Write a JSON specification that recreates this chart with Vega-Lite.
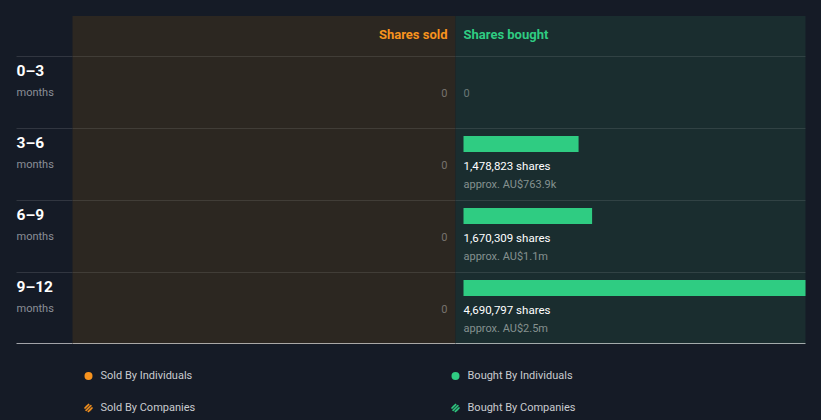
{
  "$schema": "https://vega.github.io/schema/vega-lite/v6.json",
  "background": "#151b26",
  "padding": {"left": 15.5, "top": 16, "right": 16, "bottom": 0},
  "spacing": 0,
  "config": {
    "view": {"stroke": null},
    "concat": {"spacing": 0},
    "font": "Roboto",
    "text": {"font": "Roboto"}
  },
  "datasets": {
    "rows": [
      {"period": "0–3", "unit": "months", "sold": 0, "bought": 0, "shares": "0", "approx": ""},
      {"period": "3–6", "unit": "months", "sold": 0, "bought": 1478823, "shares": "1,478,823 shares", "approx": "approx. AU$763.9k"},
      {"period": "6–9", "unit": "months", "sold": 0, "bought": 1670309, "shares": "1,670,309 shares", "approx": "approx. AU$1.1m"},
      {"period": "9–12", "unit": "months", "sold": 0, "bought": 4690797, "shares": "4,690,797 shares", "approx": "approx. AU$2.5m"}
    ],
    "legend": [
      {"side": "Sold", "kind": "Individuals", "label": "Sold By Individuals"},
      {"side": "Bought", "kind": "Individuals", "label": "Bought By Individuals"},
      {"side": "Sold", "kind": "Companies", "label": "Sold By Companies"},
      {"side": "Bought", "kind": "Companies", "label": "Bought By Companies"}
    ]
  },
  "vconcat": [
    {
      "spacing": 0,
      "bounds": "flush",
      "hconcat": [
        {
          "width": 56, "height": 40,
          "data": {"values": [{}]},
          "mark": {"type": "text"},
          "encoding": {"text": {"value": ""}, "x": {"datum": 0, "type": "quantitative", "scale": {"domain": [0, 1]}, "axis": null}}
        },
        {
          "width": 383, "height": 40,
          "view": {"fill": "#2c2721", "stroke": null},
          "data": {"values": [{"label": "Shares sold"}]},
          "mark": {"type": "text", "align": "right", "baseline": "middle", "dx": -8, "dy": -1.5, "fontSize": 13, "fontWeight": "bold", "color": "#f7931e"},
          "encoding": {
            "text": {"field": "label"},
            "x": {"datum": 0, "type": "quantitative", "scale": {"domain": [0, 1], "nice": false, "reverse": true}, "axis": null}
          }
        },
        {
          "width": 350, "height": 40,
          "view": {"fill": "#1a2d2f", "stroke": null},
          "data": {"values": [{"label": "Shares bought"}]},
          "mark": {"type": "text", "align": "left", "baseline": "middle", "dx": 8, "dy": -1.5, "fontSize": 13, "fontWeight": "bold", "color": "#2fcc82"},
          "encoding": {
            "text": {"field": "label"},
            "x": {"datum": 0, "type": "quantitative", "scale": {"domain": [0, 1], "nice": false}, "axis": null}
          }
        }
      ]
    },
    {
      "spacing": 0,
      "bounds": "flush",
      "hconcat": [
        {
          "width": 56, "height": 288,
          "data": {"name": "rows"},
          "encoding": {
            "y": {"field": "period", "type": "nominal", "sort": null, "bandPosition": 0, "scale": {"paddingInner": 0, "paddingOuter": 0}, "axis": null}
          },
          "layer": [
            {"mark": {"type": "rule", "color": "#ffffff", "opacity": 0.12, "strokeWidth": 1, "yOffset": 0.5}},
            {
              "transform": [{"filter": "datum.period == '9–12'"}],
              "mark": {"type": "rule", "color": "#ffffff", "opacity": 0.6, "strokeWidth": 1, "yOffset": -0.5},
              "encoding": {"y": {"field": "period", "type": "nominal", "sort": null, "bandPosition": 1}}
            },
            {
              "mark": {"type": "text", "align": "left", "baseline": "alphabetic", "dy": 20, "fontSize": 15.5, "fontWeight": "bold", "color": "#ffffff"},
              "encoding": {
                "text": {"field": "period"},
                "x": {"datum": 0, "type": "quantitative", "scale": {"domain": [0, 1], "nice": false}, "axis": null}
              }
            },
            {
              "mark": {"type": "text", "align": "left", "baseline": "alphabetic", "dy": 39.5, "fontSize": 11, "color": "#8b8f97"},
              "encoding": {
                "text": {"field": "unit"},
                "x": {"datum": 0, "type": "quantitative"}
              }
            }
          ]
        },
        {
          "width": 383, "height": 288,
          "view": {"fill": "#2c2721", "stroke": null},
          "data": {"name": "rows"},
          "encoding": {
            "y": {"field": "period", "type": "nominal", "sort": null, "bandPosition": 0, "scale": {"paddingInner": 0, "paddingOuter": 0}, "axis": null}
          },
          "layer": [
            {"mark": {"type": "rule", "color": "#ffffff", "opacity": 0.1, "strokeWidth": 1, "yOffset": 0.5}},
            {
              "transform": [{"filter": "datum.period == '9–12'"}],
              "mark": {"type": "rule", "color": "#ffffff", "opacity": 0.6, "strokeWidth": 1, "yOffset": -0.5},
              "encoding": {"y": {"field": "period", "type": "nominal", "sort": null, "bandPosition": 1}}
            },
            {
              "mark": {"type": "text", "align": "right", "baseline": "middle", "dx": -8, "dy": 38, "fontSize": 11, "color": "#77736e"},
              "encoding": {
                "text": {"field": "sold", "type": "quantitative", "format": ","},
                "x": {"field": "sold", "type": "quantitative", "scale": {"domain": [0, 4690797], "nice": false, "reverse": true}, "axis": null}
              }
            }
          ]
        },
        {
          "width": 350, "height": 288,
          "view": {"fill": "#1a2d2f", "stroke": null},
          "data": {"name": "rows"},
          "encoding": {
            "y": {"field": "period", "type": "nominal", "sort": null, "bandPosition": 0, "scale": {"paddingInner": 0, "paddingOuter": 0}, "axis": null}
          },
          "layer": [
            {"mark": {"type": "rule", "color": "#ffffff", "opacity": 0.1, "strokeWidth": 1, "yOffset": 0.5}},
            {
              "transform": [{"filter": "datum.period == '9–12'"}],
              "mark": {"type": "rule", "color": "#ffffff", "opacity": 0.6, "strokeWidth": 1, "yOffset": -0.5},
              "encoding": {"y": {"field": "period", "type": "nominal", "sort": null, "bandPosition": 1}}
            },
            {
              "transform": [{"filter": "datum.bought > 0"}],
              "mark": {"type": "bar", "color": "#2fcc82", "height": 16, "yOffset": -20},
              "encoding": {
                "y": {"field": "period", "type": "nominal", "sort": null},
                "x": {"field": "bought", "type": "quantitative", "scale": {"domain": [-150000, 4690797], "nice": false, "zero": false, "range": [8, 350]}, "axis": null},
                "x2": {"datum": -150000}
              }
            },
            {
              "transform": [{"filter": "datum.bought > 0"}],
              "mark": {"type": "text", "align": "left", "baseline": "alphabetic", "dy": 42, "fontSize": 11.5, "color": "#ffffff"},
              "encoding": {
                "text": {"field": "shares"},
                "x": {"datum": -150000, "type": "quantitative"}
              }
            },
            {
              "transform": [{"filter": "datum.bought > 0"}],
              "mark": {"type": "text", "align": "left", "baseline": "alphabetic", "dy": 60, "fontSize": 11, "color": "#85918f"},
              "encoding": {
                "text": {"field": "approx"},
                "x": {"datum": -150000, "type": "quantitative"}
              }
            },
            {
              "transform": [{"filter": "datum.bought == 0"}],
              "mark": {"type": "text", "align": "left", "baseline": "middle", "dy": 38, "fontSize": 11, "color": "#6b7877"},
              "encoding": {
                "text": {"field": "shares"},
                "x": {"datum": -150000, "type": "quantitative"}
              }
            }
          ],
          "resolve": {"scale": {"x": "shared"}}
        }
      ]
    },
    {
      "width": 789, "height": 76,
      "data": {"name": "legend"},
      "encoding": {
        "x": {"field": "side", "type": "nominal", "scale": {"type": "point", "padding": 0, "domain": ["Sold", "Bought"], "range": [72, 439]}, "axis": null},
        "y": {"field": "kind", "type": "nominal", "scale": {"type": "point", "padding": 0, "domain": ["Individuals", "Companies"], "range": [32, 64]}, "axis": null},
        "color": {"field": "side", "type": "nominal", "scale": {"domain": ["Sold", "Bought"], "range": ["#f7931e", "#2fcc82"]}, "legend": null}
      },
      "layer": [
        {
          "transform": [{"filter": "datum.kind == 'Individuals'"}],
          "mark": {"type": "point", "shape": "circle", "filled": true, "size": 64, "opacity": 1}
        },
        {
          "transform": [{"filter": "datum.kind == 'Companies'"}],
          "mark": {"type": "point", "shape": "circle", "filled": true, "size": 52, "opacity": 0.3}
        },
        {
          "transform": [{"filter": "datum.kind == 'Companies'"}],
          "mark": {"type": "point", "shape": "M-0.99,0.14L0.14,-0.99M-0.707,0.707L0.707,-0.707M-0.14,0.99L0.99,-0.14", "filled": false, "size": 66, "strokeWidth": 1.4, "opacity": 1}
        },
        {
          "mark": {"type": "text", "align": "left", "baseline": "middle", "dx": 12, "fontSize": 11, "color": "#c9cbcf"},
          "encoding": {"text": {"field": "label"}, "color": {"value": "#c9cbcf"}}
        }
      ]
    }
  ]
}
